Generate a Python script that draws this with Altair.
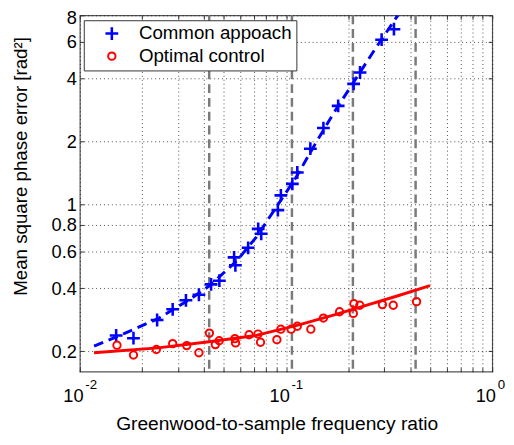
import altair as alt
import pandas as pd

# ---------------- data ----------------
series_names = ["Common appoach", "Optimal control"]

blue_x = [0.0150, 0.0182, 0.0237, 0.0282, 0.0327, 0.0378, 0.0433, 0.0475, 0.0560, 0.0568,
          0.0655, 0.0733, 0.0758, 0.0913, 0.0944, 0.1073, 0.1134, 0.1312, 0.1518, 0.1790,
          0.2127, 0.2285, 0.2908, 0.3337]
blue_y = [0.238, 0.231, 0.282, 0.317, 0.350, 0.372, 0.417, 0.434, 0.561, 0.514,
          0.623, 0.767, 0.727, 0.942, 1.108, 1.257, 1.424, 1.85, 2.32, 2.96,
          3.77, 4.27, 6.12, 6.87]

red_x = [0.01514, 0.0182, 0.0235, 0.0282, 0.0330, 0.0378, 0.0425, 0.0454, 0.0474, 0.0565,
         0.0569, 0.0662, 0.0731, 0.0752, 0.0903, 0.0944, 0.1059, 0.1134, 0.1319, 0.1518,
         0.1818, 0.2120, 0.2134, 0.2279, 0.2934, 0.3311, 0.4295]
red_y = [0.2138, 0.1919, 0.2039, 0.2176, 0.2129, 0.1968, 0.2442, 0.2152, 0.2247, 0.2297,
         0.2193, 0.2397, 0.2416, 0.2209, 0.2272, 0.2549, 0.2549, 0.2633, 0.2549, 0.2880,
         0.3088, 0.3031, 0.3377, 0.3315, 0.3340, 0.3315, 0.3450]

blue_fit_x = [0.01172, 0.0166, 0.0239, 0.0345, 0.0430, 0.0576, 0.0717, 0.0944, 0.1113,
              0.1386, 0.1727, 0.2150, 0.2678, 0.3485]
blue_fit_y = [0.2115, 0.2442, 0.286, 0.356, 0.414, 0.539, 0.700, 1.05, 1.34,
              1.95, 2.80, 3.90, 5.45, 8.0]

red_fit_x = [0.01172, 0.02393, 0.0414, 0.0717, 0.1154, 0.1665, 0.2400, 0.3460, 0.4990]
red_fit_y = [0.1968, 0.2076, 0.2216, 0.2382, 0.2672, 0.2957, 0.3294, 0.3670, 0.4114]

vlines_x = [0.0424, 0.1068, 0.211, 0.425]

x_grid = [0.01, 0.02, 0.03, 0.04, 0.05, 0.06, 0.07, 0.08, 0.09,
          0.1, 0.2, 0.3, 0.4, 0.5, 0.6, 0.7, 0.8, 0.9, 1.0]
x_decades = [0.01, 0.1, 1.0]
y_ticks = [0.2, 0.4, 0.6, 0.8, 1, 2, 4, 6, 8]

x_title = "Greenwood-to-sample frequency ratio"
y_title = "Mean square phase error [rad²]"

# ---------------- chart ----------------
FONT = "Liberation Sans"
W, H = 419, 362
XD = [0.01, 1.0]
YD = [0.16, 8.0]
PLUS = "M-1,0H1M0,-1V1"

pts = pd.DataFrame({
    "x": blue_x + red_x,
    "y": blue_y + red_y,
    "series": [series_names[0]] * len(blue_x) + [series_names[1]] * len(red_x),
})
bfit = pd.DataFrame({"x": blue_fit_x, "y": blue_fit_y})
rfit = pd.DataFrame({"x": red_fit_x, "y": red_fit_y})
vl = pd.DataFrame({"x": vlines_x})


def xs():
    return alt.Scale(type="log", domain=XD, nice=False)


def ys():
    return alt.Scale(type="log", domain=YD, nice=False)


tick_style = dict(domain=False, labels=False, grid=False, ticks=True, tickSize=4,
                  offset=-4, tickColor="#333", tickWidth=1, title=None)
grid_style = dict(grid=True, gridDash=[1, 3], gridColor="#000", gridOpacity=0.7, gridWidth=1)

l1 = alt.Chart(vl).mark_rule(color="#7a7a7a", strokeWidth=2.5, strokeDash=[9, 5]).encode(
    x=alt.X("x:Q", scale=xs(),
            axis=alt.Axis(orient="bottom", values=x_grid, **{**tick_style, **grid_style}))
)

l2 = alt.Chart(bfit).mark_line(color="#0000ff", strokeWidth=3, strokeDash=[10, 6], clip=True).encode(
    x=alt.X("x:Q", scale=xs(), axis=alt.Axis(orient="top", values=x_grid, **tick_style)),
    y=alt.Y("y:Q", scale=ys(), axis=alt.Axis(orient="right", values=y_ticks, **tick_style)),
)

l3 = alt.Chart(rfit).mark_line(color="#ff0000", strokeWidth=3, clip=True).encode(
    x=alt.X("x:Q", scale=xs(),
            axis=alt.Axis(orient="bottom", values=x_decades, domain=False, ticks=False, grid=False,
                          labelExpr="round(log(datum.value)/LN10)", labelFontSize=13.5,
                          labelAlign="left", labelOffset=5, labelPadding=6.5, labelFlush=False,
                          title=None)),
    y=alt.Y("y:Q", scale=ys(),
            axis=alt.Axis(orient="left", values=y_ticks, **{**tick_style, **grid_style})),
)

l4 = alt.Chart(pts).mark_point(filled=False, opacity=1, clip=True).encode(
    x=alt.X("x:Q", scale=xs(),
            axis=alt.Axis(orient="bottom", values=x_decades, domain=False, ticks=False, grid=False,
                          labelExpr="'10'", labelFontSize=18.5, labelOffset=-7, labelPadding=15,
                          labelFlush=False,
                          title=x_title, titleFontSize=19.5, titleFontWeight="normal",
                          titleX=200, titleY=59, titleBaseline="alphabetic")),
    y=alt.Y("y:Q", scale=ys(),
            axis=alt.Axis(orient="left", values=y_ticks, format="~g", domain=False, ticks=False,
                          grid=False, labelFontSize=18.5, labelPadding=3.5,
                          labelFlush=True, labelFlushOffset=7,
                          title=y_title, titleFontSize=19, titleFontWeight="normal",
                          titleX=-60, titleY=153, titleBaseline="middle")),
    color=alt.Color("series:N", scale=alt.Scale(domain=series_names, range=["#0000ff", "#ff0000"]),
                    legend=alt.Legend(title=None, orient="none", legendX=4, legendY=5,
                                      fillColor="white", strokeColor="#333", padding=4,
                                      labelFontSize=19, symbolOffset=15, labelOffset=18,
                                      rowPadding=1, symbolOpacity=1)),
    shape=alt.Shape("series:N", scale=alt.Scale(domain=series_names, range=[PLUS, "circle"])),
    size=alt.Size("series:N", scale=alt.Scale(domain=series_names, range=[169, 56])),
    strokeWidth=alt.StrokeWidth("series:N", scale=alt.Scale(domain=series_names, range=[2.6, 2.0])),
)

chart = (
    alt.layer(l1, l2, l3, l4)
    .resolve_scale(x="independent", y="independent")
    .resolve_axis(x="independent", y="independent")
    .properties(width=W, height=H,
                padding={"left": 73, "top": 4, "right": 14, "bottom": 63},
                autosize=alt.AutoSizeParams(type="none"))
    .configure_view(stroke="#555", strokeWidth=1.2, fill="white")
    .configure_axis(labelFont=FONT, titleFont=FONT, labelColor="#000", titleColor="#000")
    .configure_legend(labelFont=FONT, labelColor="#000")
)

chart.save("out.html", embed_options={"renderer": "svg", "actions": False})
